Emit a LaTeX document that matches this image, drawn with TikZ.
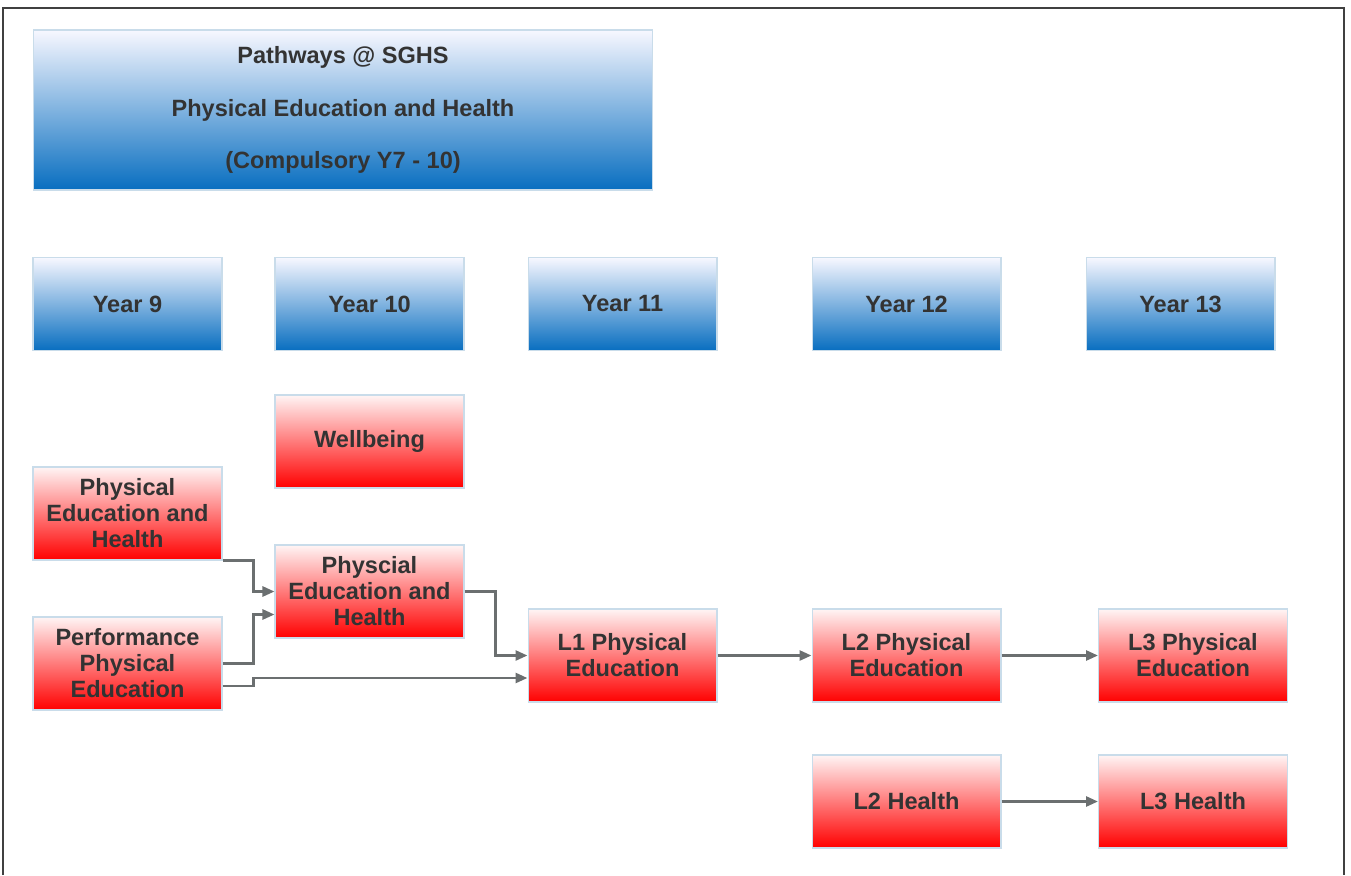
\documentclass[tikz,border=0pt]{standalone}
\usepackage{fontspec}
\setmainfont{Liberation Sans}
\usetikzlibrary{arrows.meta}

\definecolor{txtgray}{HTML}{333333}
\definecolor{linegray}{HTML}{6B6F70}
\definecolor{boxedge}{HTML}{C9DCEA}

\begin{document}
\begin{tikzpicture}[>={Triangle[length=0.24cm, width=0.2cm]}, x=0.02cm, y=-0.02cm]
            \tikzstyle{yearbox}=[rectangle, draw=boxedge, line width=0.6pt, top color=blue!3!white, bottom color={rgb,255:red,8;green,110;blue,192}, minimum width=3.78cm, minimum height=1.86cm, text=txtgray, font=\fontsize{13.4}{14.8}\selectfont\bfseries, align=center, inner sep=0pt]
            \tikzstyle{subject}=[yearbox, top color=red!4!white, bottom color=red]
            \tikzstyle{link}=[->, draw=linegray, line width=1.5pt]

            \useasboundingbox (0,0) rectangle (1351,875);
            \draw[draw=black!75, line width=0.9pt] (3,875) -- (3,8) -- (1344,8) -- (1344,875);

            \node[yearbox, minimum width=12.4cm, minimum height=3.2cm] at (343,110) (title) {Pathways @ SGHS\\[15pt] Physical Education and Health\\[15pt] (Compulsory Y7 - 10)};

            \node[yearbox] at (127.5,304) (Y9) {Year 9};
            \node[yearbox] at (369.5,304) (Y10) {Year 10};
            \node[yearbox] at (622.5,304) (Y11) {Year 11};
            \node[yearbox] at (906.5,304) (Y12) {Year 12};
            \node[yearbox] at (1180.5,304) (Y13) {Year 13};

            \node[subject] at (369.5,441.5) (well) {Wellbeing};
            \node[subject] at (127.5,513.5) (peh9) {Physical\\Education and\\Health};
            \node[subject] at (127.5,663.5) (ppe) {Performance\\Physical\\Education};
            \node[subject] at (369.5,591.5) (peh10) {Physcial\\Education and\\Health};
            \node[subject] at (622.5,655.5) (L1pe) {L1 Physical\\Education};
            \node[subject] at (906.5,655.5) (L2pe) {L2 Physical\\Education};
            \node[subject] at (1193,655.5) (L3pe) {L3 Physical\\Education};
            \node[subject] at (906.5,801.5) (L2h) {L2 Health};
            \node[subject] at (1193,801.5) (L3h) {L3 Health};

            \draw[link] (peh9.south east) -- ++(31,0) |- (peh10.west);
            \draw[link] (ppe.east) -- ++(31,0) |- ([yshift=-0.46cm]peh10.west);
            \draw[link] ([yshift=-0.45cm]ppe.east) -- ++(31,0) -- ++(0,-8) -- ([yshift=-0.45cm]L1pe.west);
            \draw[link] (peh10.east) -- ++(31,0) |- (L1pe.west);
            \path (L1pe) edge[link] (L2pe);
            \path (L2pe) edge[link] (L3pe);
            \path (L2h) edge[link] (L3h);

          \end{tikzpicture}
\end{document}
